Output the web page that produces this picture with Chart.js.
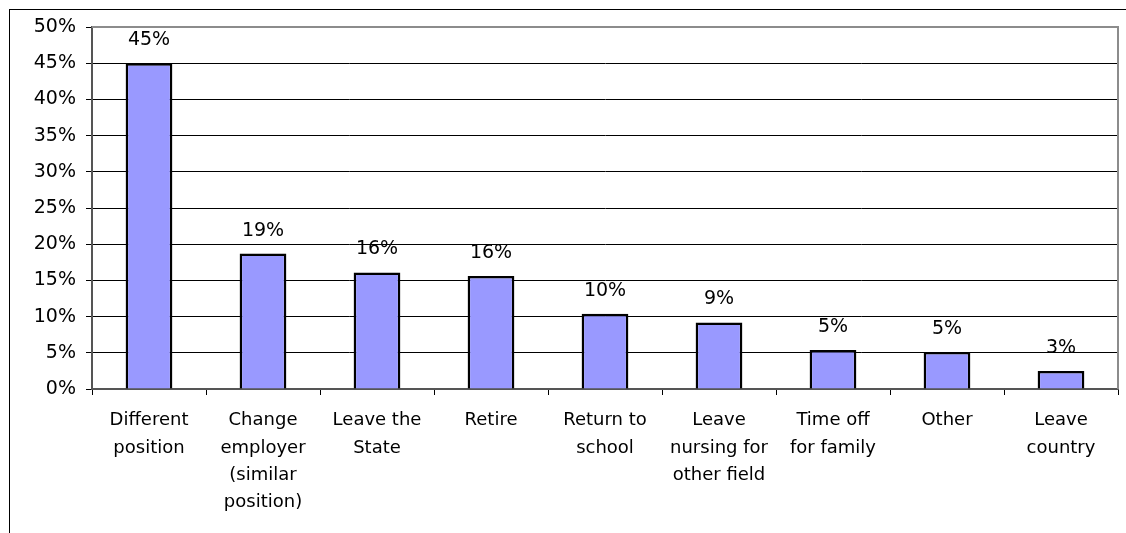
<!DOCTYPE html>
<html>
<head>
<meta charset="utf-8">
<script src="https://cdn.jsdelivr.net/npm/chart.js@4.4.1/dist/chart.umd.min.js"></script>
<style>
  html, body { margin: 0; padding: 0; background: #fff; overflow: hidden; }
  #wrap { position: relative; width: 1126px; height: 533px; }
  #frame { position: absolute; left: 9px; top: 9px; width: 1300px; height: 700px; border: 1px solid #000; box-sizing: border-box; }
  canvas { position: absolute; left: 0; top: 0; }
</style>
</head>
<body>
<div id="wrap">
  <div id="frame"></div>
  <canvas id="reasonsChart" width="1126" height="533"></canvas>
</div>
<script>
// Categorías (motivos) y porcentajes
const categories = [
  ['Different', 'position'],
  ['Change', 'employer', '(similar', 'position)'],
  ['Leave the', 'State'],
  ['Retire'],
  ['Return to', 'school'],
  ['Leave', 'nursing for', 'other field'],
  ['Time off', 'for family'],
  ['Other'],
  ['Leave', 'country']
];
const percents = [45, 18.7, 16.1, 15.6, 10.4, 9.2, 5.4, 5.1, 2.5];
const yTicks = [0, 5, 10, 15, 20, 25, 30, 35, 40, 45, 50];

const FAMILY = '"DejaVu Sans", Arial, sans-serif';

// Borde gris del área de trazado (arriba y derecha)
const plotBorder = {
  id: 'plotBorder',
  beforeDatasetsDraw(chart) {
    const { ctx, chartArea: a } = chart;
    ctx.save();
    ctx.strokeStyle = '#8c8c8c';
    ctx.lineWidth = 2;
    ctx.beginPath();
    ctx.moveTo(a.left, a.top);
    ctx.lineTo(a.right, a.top);
    ctx.lineTo(a.right, a.bottom);
    ctx.stroke();
    ctx.restore();
  }
};

// Etiquetas de valor encima de cada barra
const valueLabels = {
  id: 'valueLabels',
  afterDatasetsDraw(chart) {
    const { ctx } = chart;
    const meta = chart.getDatasetMeta(0);
    ctx.save();
    ctx.font = '19px ' + FAMILY;
    ctx.fillStyle = '#000';
    ctx.textAlign = 'center';
    ctx.textBaseline = 'middle';
    meta.data.forEach((bar, i) => {
      ctx.fillText(Math.round(percents[i]) + '%', bar.x, bar.y - 23);
    });
    ctx.restore();
  }
};

const ctx = document.getElementById('reasonsChart').getContext('2d');
const chart = new Chart(ctx, {
  type: 'bar',
  data: {
    labels: categories,
    datasets: [{
      data: percents,
      backgroundColor: '#9999FF',
      borderColor: '#000',
      borderWidth: 2.5,
      barPercentage: 0.41,
      categoryPercentage: 1
    }]
  },
  options: {
    responsive: false,
    animation: false,
    layout: { padding: { top: 27, right: 8, left: 0, bottom: 0 } },
    plugins: { legend: { display: false }, tooltip: { enabled: false } },
    scales: {
      x: {
        grid: { drawOnChartArea: false, drawTicks: true, tickLength: 6, tickColor: '#000', offset: true },
        border: { color: '#555', width: 2 },
        ticks: { color: '#000', font: { family: FAMILY, size: 18, lineHeight: 1.52 }, padding: 12, maxRotation: 0, autoSkip: false },
        afterFit(s) { s.height = 144; }
      },
      y: {
        min: 0,
        max: 50,
        afterBuildTicks(s) { s.ticks = yTicks.map(v => ({ value: v })); },
        grid: {
          color: c => (c.tick && c.tick.value === 50 ? 'rgba(0,0,0,0)' : '#000'),
          lineWidth: 1,
          tickLength: 6,
          tickColor: '#000'
        },
        border: { color: '#555', width: 2 },
        ticks: { color: '#000', font: { family: FAMILY, size: 19 }, padding: 10, callback: v => v + '%' },
        afterFit(s) { s.width = 92; }
      }
    }
  },
  plugins: [plotBorder, valueLabels]
});
</script>
</body>
</html>
